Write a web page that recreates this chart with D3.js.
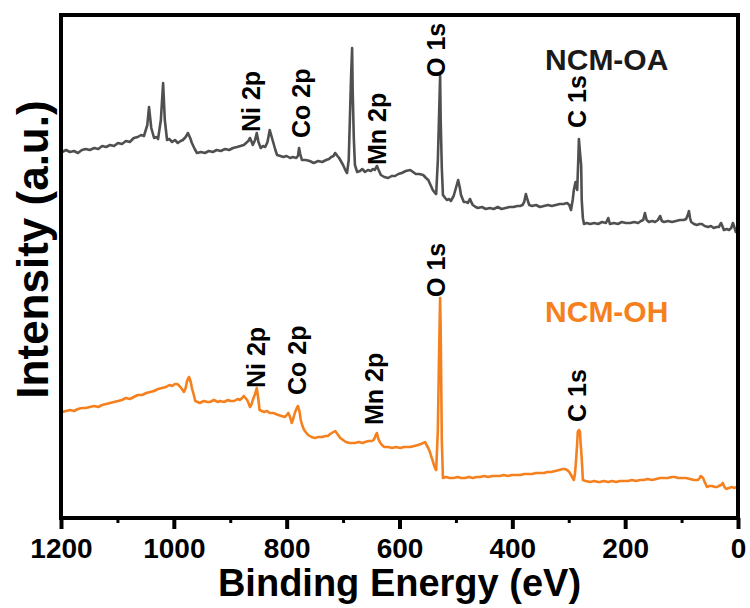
<!DOCTYPE html>
<html>
<head>
<meta charset="utf-8">
<script src="https://cdn.jsdelivr.net/npm/d3@7/dist/d3.min.js"></script>
<style>
  html, body { margin: 0; padding: 0; background: #fff; }
  svg { display: block; font-family: "Liberation Sans", Arial, sans-serif; }
</style>
</head>
<body>
<svg id="chart" width="750" height="608"></svg>
<script>
// XPS survey spectra as [binding energy (eV), intensity (a.u., offset stacked)]
const oaSpectrum = [
  [1198,366],[1191,368],[1184,366],[1177,367],[1170,365],[1163,368],[1156,369],[1149,368],[1141,370],[1134,369],
  [1127,372],[1120,371],[1113,373],[1106,372],[1099,375],[1092,374],[1085,377],[1078,376],[1071,380],[1064,381],
  [1058,383],[1053,382],[1047,393],[1044,411],[1040,390],[1035,380],[1031,381],[1028,379],[1023,398],[1019,435],
  [1016,398],[1012,378],[1008,379],[1003,376],[998,378],[993,375],[988,377],[984,378],[979,381],[975,385],
  [971,380],[968,375],[963,369],[959,365],[952,366],[945,365],[938,367],[931,366],[924,368],[917,367],
  [909,369],[902,368],[895,370],[888,371],[882,372],[876,373],[872,375],[868,377],[865,380],[862,376],
  [860,373],[856,378],[853,385],[850,376],[846,370],[842,372],[838,371],[834,376],[830,388],[827,382],
  [824,376],[820,368],[817,363],[811,362],[806,361],[800,362],[794,360],[789,361],[783,360],[780,362],
  [778,370],[776,364],[773,358],[766,358],[759,357],[752,355],[744,357],[737,356],[730,358],[725,359],
  [721,361],[717,362],[714,365],[710,362],[707,360],[703,356],[700,353],[696,348],[693,345],[690,358],
  [686,438],[684,470],[683,428],[681,380],[679,353],[675,346],[670,347],[666,349],[661,346],[656,348],
  [651,347],[647,349],[644,348],[640,352],[637,348],[633,343],[627,341],[620,340],[614,342],[608,342],
  [602,344],[596,345],[589,347],[581,348],[576,346],[571,344],[565,344],[558,343],[553,340],[549,338],
  [545,333],[541,328],[537,325],[535,324],[532,358],[528,442],[527,398],[525,350],[523,323],[519,320],
  [516,318],[512,319],[509,317],[504,322],[500,330],[496,338],[493,330],[491,323],[486,316],[482,316],
  [479,315],[475,319],[472,315],[470,313],[465,311],[461,310],[454,311],[447,309],[440,310],[433,309],
  [426,311],[419,309],[412,310],[405,311],[398,311],[391,312],[386,312],[382,313],[379,316],[376,324],
  [373,318],[370,313],[365,312],[358,313],[351,311],[344,312],[337,313],[330,312],[323,313],[316,314],
  [309,314],[303,315],[299,313],[296,308],[293,318],[291,328],[288,336],[286,330],[285,328],[283,360],
  [282,379],[280,365],[278,353],[277,318],[275,300],[273,294],[268,295],[262,294],[255,295],[248,294],
  [241,296],[234,295],[230,300],[227,294],[220,295],[213,294],[206,296],[199,295],[191,295],[184,296],
  [177,295],[172,297],[168,298],[165,305],[162,298],[158,296],[152,297],[147,296],[142,298],[138,302],
  [135,297],[131,296],[124,297],[117,296],[110,297],[103,298],[96,298],[92,299],[89,303],[87,307],
  [85,300],[83,296],[78,294],[73,293],[68,294],[64,294],[59,292],[53,291],[48,292],[43,290],
  [38,291],[34,291],[30,295],[27,291],[25,288],[20,289],[16,288],[12,290],[9,295],[6,290],
  [4,286],[2,288],[0,290]
];

const ohSpectrum = [
  [1198,106],[1191,107],[1184,108],[1177,107],[1170,109],[1163,110],[1156,110],[1149,111],[1141,112],[1134,111],
  [1127,113],[1120,114],[1113,115],[1106,116],[1099,117],[1092,118],[1085,120],[1078,119],[1071,121],[1064,123],
  [1056,123],[1049,125],[1042,126],[1035,127],[1028,129],[1021,130],[1014,131],[1008,133],[1003,132],[998,134],
  [994,134],[990,132],[987,130],[982,126],[979,130],[977,136],[975,139],[973,141],[970,136],[968,130],
  [965,124],[962,117],[958,116],[954,115],[947,117],[940,116],[936,116],[929,118],[922,116],[918,117],
  [911,116],[904,118],[900,117],[893,117],[887,119],[883,118],[879,120],[876,122],[873,120],[870,118],
  [867,114],[865,111],[862,114],[860,118],[856,124],[853,130],[850,118],[848,108],[844,107],[840,106],
  [835,107],[830,105],[824,105],[819,104],[815,103],[809,102],[803,101],[800,103],[797,105],[794,101],
  [791,95],[788,100],[785,106],[782,110],[780,112],[777,106],[775,98],[772,92],[769,88],[765,85],
  [762,83],[756,81],[750,80],[744,81],[737,81],[731,82],[727,82],[723,84],[720,85],[717,86],
  [714,87],[710,84],[705,80],[700,78],[695,76],[688,75],[679,75],[672,76],[666,75],[661,76],
  [655,77],[649,77],[646,78],[644,80],[642,83],[640,85],[638,80],[635,76],[631,73],[627,71],
  [620,71],[613,70],[606,71],[599,70],[592,71],[585,71],[581,71],[574,72],[567,73],[562,74],
  [558,75],[555,76],[552,73],[549,70],[546,66],[544,62],[541,57],[539,53],[537,50],[535,48],
  [532,88],[530,160],[528,220],[527,188],[525,78],[523,40],[518,41],[511,40],[504,40],[497,41],
  [491,40],[484,40],[477,41],[470,40],[464,41],[457,41],[450,42],[443,41],[436,42],[429,42],
  [422,42],[415,43],[408,42],[401,43],[394,43],[386,43],[379,44],[372,44],[365,44],[358,45],
  [351,45],[344,45],[338,46],[331,46],[324,47],[317,48],[310,49],[307,49],[303,48],[299,46],
  [296,43],[293,40],[291,38],[289,44],[287,58],[285,75],[284,86],[282,88],[280,86],[279,75],
  [278,68],[276,50],[275,38],[270,37],[262,36],[255,37],[248,36],[245,36],[238,37],[230,36],
  [223,37],[216,36],[209,37],[202,37],[195,37],[188,38],[181,37],[174,38],[167,38],[160,39],
  [152,38],[145,39],[138,40],[131,40],[124,40],[117,41],[112,41],[106,40],[99,40],[92,40],
  [85,39],[78,38],[74,38],[71,38],[68,40],[66,42],[64,41],[62,40],[59,36],[55,31],
  [51,32],[46,32],[41,31],[37,31],[34,32],[30,33],[27,35],[24,31],[21,29],[16,30],
  [11,31],[6,30],[3,31],[0,31]
];

const tickValues = [1200, 1000, 800, 600, 400, 200, 0];
const minorTickValues = [1100, 900, 700, 500, 300, 100];

// Peak assignments: label, energy of label centre, intensity at label foot
const oaPeakNames = ["Ni 2p", "Co 2p", "Mn 2p", "O 1s", "C 1s"];
const oaPeakEnergy = [863, 775, 640, 534, 285];
const oaPeakLevel = [386, 380, 353, 441, 390];
const ohPeakNames = ["Ni 2p", "Co 2p", "Mn 2p", "O 1s", "C 1s"];
const ohPeakEnergy = [854, 782, 645, 534, 285];
const ohPeakLevel = [130, 123, 93, 221, 96];

const seriesNames = ["NCM-OA", "NCM-OH"];
const seriesLabelEnergy = [342, 342];
const seriesLabelLevel = [448, 196];

const colors = { oa: "#505050", oh: "#f5801e" };

const svg = d3.select("#chart");
const plot = { left: 61, top: 15, right: 738, bottom: 518 };

const x = d3.scaleLinear().domain([1200, 0]).range([plot.left, plot.right]);
const y = d3.scaleLinear().domain([0, 503]).range([plot.bottom, plot.top]);

const line = d3.line().x(d => x(d[0])).y(d => y(d[1]));

svg.append("path").datum(oaSpectrum)
  .attr("d", line).attr("fill", "none")
  .attr("stroke", colors.oa).attr("stroke-width", 2.6)
  .attr("stroke-linejoin", "round");

svg.append("path").datum(ohSpectrum)
  .attr("d", line).attr("fill", "none")
  .attr("stroke", colors.oh).attr("stroke-width", 2.6)
  .attr("stroke-linejoin", "round");

// Peak labels, rotated
function peakLabels(names, energies, levels) {
  svg.append("g").selectAll("text")
    .data(names.map((n, i) => ({ n, e: energies[i], l: levels[i] })))
    .join("text")
    .attr("transform", d => `translate(${x(d.e)},${y(d.l)}) rotate(-90)`)
    .attr("dy", "0.35em")
    .attr("font-size", 25).attr("font-weight", "bold").attr("fill", "#000")
    .text(d => d.n);
}
peakLabels(oaPeakNames, oaPeakEnergy, oaPeakLevel);
peakLabels(ohPeakNames, ohPeakEnergy, ohPeakLevel);

// Sample names
svg.append("g").selectAll("text")
  .data(seriesNames)
  .join("text")
  .attr("x", (d, i) => x(seriesLabelEnergy[i]))
  .attr("y", (d, i) => y(seriesLabelLevel[i]))
  .attr("font-size", 30).attr("font-weight", "bold")
  .attr("fill", (d, i) => i === 0 ? "#1a1a1a" : colors.oh)
  .text(d => d);

// X axis: major and minor ticks
const xAxis = d3.axisBottom(x).tickValues(tickValues).tickSize(11).tickFormat(d3.format("d"));
const gx = svg.append("g").attr("transform", `translate(0,${plot.bottom})`).call(xAxis);
gx.select(".domain").remove();
gx.selectAll(".tick line").attr("stroke", "#000").attr("stroke-width", 4);
gx.selectAll(".tick text")
  .attr("y", 40).attr("dy", 0)
  .attr("font-size", 28).attr("font-weight", "bold").attr("fill", "#000")
  .attr("font-family", "'Liberation Sans', Arial, sans-serif");

const xMinor = d3.axisBottom(x).tickValues(minorTickValues).tickSize(5).tickFormat("");
const gm = svg.append("g").attr("transform", `translate(0,${plot.bottom})`).call(xMinor);
gm.select(".domain").remove();
gm.selectAll(".tick line").attr("stroke", "#000").attr("stroke-width", 3);

// Frame
svg.append("rect")
  .attr("x", plot.left).attr("y", plot.top)
  .attr("width", plot.right - plot.left).attr("height", plot.bottom - plot.top)
  .attr("fill", "none").attr("stroke", "#000").attr("stroke-width", 4);

// Axis titles
svg.append("text")
  .attr("x", (plot.left + plot.right) / 2).attr("y", 596)
  .attr("text-anchor", "middle")
  .attr("font-size", 38).attr("font-weight", "bold").attr("fill", "#000")
  .text("Binding Energy (eV)");

svg.append("text")
  .attr("transform", `translate(48,${(plot.top + plot.bottom) / 2 - 17}) rotate(-90)`)
  .attr("text-anchor", "middle")
  .attr("font-size", 44).attr("font-weight", "bold").attr("fill", "#000")
  .text("Intensity (a.u.)");
</script>
</body>
</html>
